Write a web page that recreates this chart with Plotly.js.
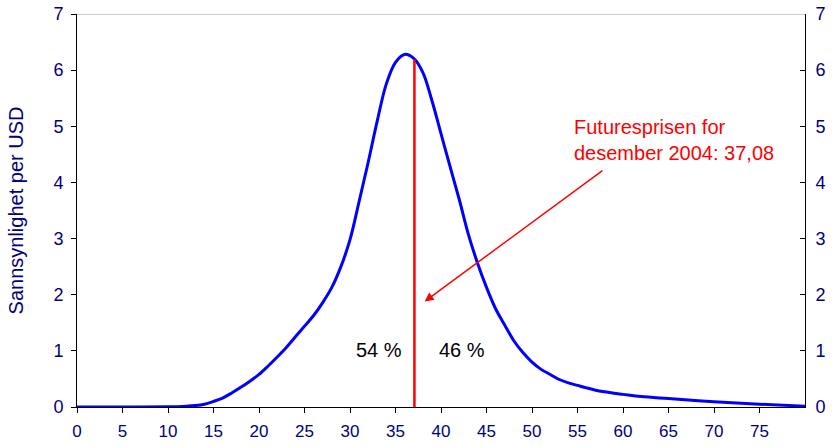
<!DOCTYPE html>
<html>
<head>
<meta charset="utf-8">
<script src="https://cdn.plot.ly/plotly-3.0.1.min.js"></script>
<style>html,body{margin:0;padding:0;background:#fff;}#chart{width:832px;height:447px;}</style>
</head>
<body>
<div id="chart"></div>
<script>
// Price of oil (USD) and probability density
const priceUSD = [0, 5, 10, 11, 12, 13, 14, 15, 16, 17, 18, 19, 20, 21, 22, 23, 24, 25, 26, 27, 28, 29, 30, 31, 32, 33, 34, 35, 36, 37, 38, 39, 40, 41, 42, 43, 44, 45, 46, 47, 48, 49, 50, 51, 52, 53, 54, 55, 56, 57, 58, 59, 60, 62, 65, 70, 75, 80];
const density = [0, 0, 0.003, 0.006, 0.012, 0.025, 0.05, 0.10, 0.16, 0.25, 0.35, 0.46, 0.58, 0.73, 0.89, 1.06, 1.25, 1.44, 1.63, 1.86, 2.13, 2.50, 2.98, 3.66, 4.36, 5.10, 5.76, 6.14, 6.28, 6.21, 5.96, 5.46, 4.87, 4.28, 3.70, 3.08, 2.57, 2.13, 1.75, 1.46, 1.18, 0.97, 0.80, 0.67, 0.58, 0.49, 0.43, 0.385, 0.34, 0.30, 0.27, 0.245, 0.225, 0.185, 0.15, 0.095, 0.05, 0.015];
const futuresPrice = 37.08;
const futuresLineY = [0, 6.19];
const xTicks = [0, 5, 10, 15, 20, 25, 30, 35, 40, 45, 50, 55, 60, 65, 70, 75];
const yTicks = [0, 1, 2, 3, 4, 5, 6, 7];
const shareBelow = '54 %';
const shareAbove = '46 %';
const yTitle = 'Sannsynlighet per USD';
const noteText = 'Futuresprisen for<br>desember 2004: 37,08';

const FONT = 'Liberation Sans, Arial, sans-serif';
const NAVY = '#000080';

const traces = [
  {x: priceUSD, y: density, type: 'scatter', mode: 'lines',
   line: {color: '#0000FF', width: 3, shape: 'spline', smoothing: 1}, hoverinfo: 'skip', showlegend: false},
  {x: [futuresPrice, futuresPrice], y: futuresLineY, type: 'scatter', mode: 'lines',
   line: {color: '#FF0000', width: 2.5}, hoverinfo: 'skip', showlegend: false},
  {x: [0, 80], y: [0, 7], yaxis: 'y2', type: 'scatter', mode: 'markers',
   marker: {opacity: 0}, hoverinfo: 'skip', showlegend: false}
];

const layout = {
  width: 832, height: 447,
  margin: {l: 77, r: 27, t: 14, b: 40},
  paper_bgcolor: '#fff', plot_bgcolor: '#fff',
  font: {family: FONT, color: NAVY, size: 18},
  xaxis: {range: [0, 80], tickvals: xTicks, ticktext: xTicks.map(String),
    ticks: 'outside', ticklen: 5, tickcolor: '#000', showline: true, linecolor: '#000', linewidth: 1,
    showgrid: false, zeroline: false, tickfont: {size: 17, color: NAVY, family: FONT},
    ticklabelstandoff: 4, fixedrange: true},
  yaxis: {range: [0, 7], tickvals: yTicks, ticks: 'outside', ticklen: 5, tickcolor: '#000',
    showline: true, linecolor: '#000', linewidth: 1, showgrid: false, zeroline: false,
    tickfont: {size: 18, color: NAVY, family: FONT}, ticklabelstandoff: 4,
    title: {text: yTitle, font: {size: 20, color: NAVY, family: FONT}, standoff: 24}, fixedrange: true},
  yaxis2: {range: [0, 7], tickvals: yTicks, overlaying: 'y', side: 'right', anchor: 'x',
    ticks: 'inside', ticklen: 5, tickcolor: '#000', showline: true, linecolor: '#000', linewidth: 1,
    showgrid: false, zeroline: false, tickfont: {size: 18, color: NAVY, family: FONT},
    ticklabelstandoff: 6, fixedrange: true},
  shapes: [
    {type: 'line', xref: 'x', yref: 'y', x0: 0, x1: 80, y0: 7, y1: 7, line: {color: '#999', width: 1}}
  ],
  annotations: [
    {x: 33.2, y: 1.02, xref: 'x', yref: 'y', text: shareBelow, showarrow: false,
     font: {size: 20, color: '#000', family: FONT}},
    {x: 42.3, y: 1.02, xref: 'x', yref: 'y', text: shareAbove, showarrow: false,
     font: {size: 20, color: '#000', family: FONT}},
    {x: 54.4, y: 4.76, xref: 'x', yref: 'y', text: noteText, showarrow: false, align: 'left',
     xanchor: 'left', yanchor: 'middle', font: {size: 20, color: '#FF0000', family: FONT}},
    {x: 38.2, y: 1.88, ax: 57.9, ay: 4.23, xref: 'x', yref: 'y', axref: 'x', ayref: 'y',
     text: '', showarrow: true, arrowhead: 2, arrowsize: 1.2, arrowwidth: 1.5, arrowcolor: '#FF0000', standoff: 0}
  ]
};

Plotly.newPlot('chart', traces, layout, {displayModeBar: false, staticPlot: true});
</script>
</body>
</html>
